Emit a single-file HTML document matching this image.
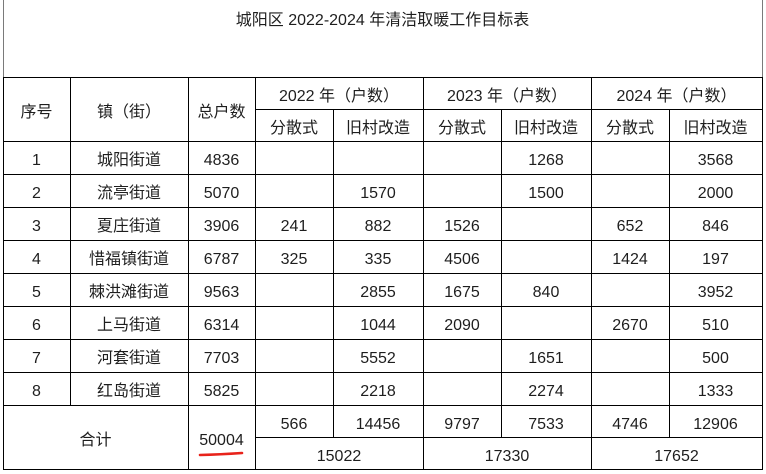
<!DOCTYPE html>
<html>
<head>
<meta charset="utf-8">
<style>
html,body{margin:0;padding:0;background:#fff;}
body{width:766px;height:474px;position:relative;overflow:hidden;font-family:"Liberation Sans","Noto Sans CJK SC",sans-serif;color:#1e1e1e;}
.h{position:absolute;height:1px;background:#000;}
.v{position:absolute;width:1px;background:#000;}
.g{background:#7a7a7a;}
.c{position:absolute;display:flex;align-items:center;justify-content:center;font-size:16px;line-height:1;white-space:nowrap;transform:translateY(3px);}
.t{transform:translateY(1px);}
</style>
</head>
<body>
<!-- title box borders -->
<div class="v g" style="left:3px;top:0;height:77px;"></div>
<div class="v g" style="left:762px;top:0;height:77px;"></div>
<div class="c t" style="left:3px;top:8px;width:759px;height:24px;">城阳区 2022-2024 年清洁取暖工作目标表</div>

<!-- horizontal lines -->
<div class="h" style="left:3px;width:760px;top:77px;"></div>
<div class="h" style="left:255px;width:508px;top:109px;"></div>
<div class="h" style="left:3px;width:760px;top:141px;"></div>
<div class="h" style="left:3px;width:760px;top:174px;"></div>
<div class="h" style="left:3px;width:760px;top:207px;"></div>
<div class="h" style="left:3px;width:760px;top:240px;"></div>
<div class="h" style="left:3px;width:760px;top:273px;"></div>
<div class="h" style="left:3px;width:760px;top:306px;"></div>
<div class="h" style="left:3px;width:760px;top:339px;"></div>
<div class="h" style="left:3px;width:760px;top:372px;"></div>
<div class="h" style="left:3px;width:760px;top:405px;"></div>
<div class="h" style="left:255px;width:508px;top:437px;"></div>
<div class="h" style="left:3px;width:760px;top:469px;"></div>

<!-- vertical lines -->
<div class="v" style="left:3px;top:77px;height:393px;"></div>
<div class="v" style="left:70px;top:77px;height:328px;"></div>
<div class="v" style="left:188px;top:77px;height:393px;"></div>
<div class="v" style="left:255px;top:77px;height:393px;"></div>
<div class="v" style="left:333px;top:109px;height:328px;"></div>
<div class="v" style="left:423px;top:77px;height:393px;"></div>
<div class="v" style="left:501px;top:109px;height:328px;"></div>
<div class="v" style="left:591px;top:77px;height:393px;"></div>
<div class="v" style="left:669px;top:109px;height:328px;"></div>
<div class="v" style="left:762px;top:77px;height:393px;"></div>

<!-- header -->
<div class="c" style="left:3px;top:78px;width:67px;height:63px;">序号</div>
<div class="c" style="left:70px;top:78px;width:118px;height:63px;">镇（街）</div>
<div class="c" style="left:188px;top:78px;width:67px;height:63px;">总户数</div>
<div class="c" style="left:255px;top:78px;width:168px;height:31px;">2022 年（户数）</div>
<div class="c" style="left:423px;top:78px;width:168px;height:31px;">2023 年（户数）</div>
<div class="c" style="left:591px;top:78px;width:171px;height:31px;">2024 年（户数）</div>
<div class="c" style="left:255px;top:110px;width:78px;height:31px;">分散式</div>
<div class="c" style="left:333px;top:110px;width:90px;height:31px;">旧村改造</div>
<div class="c" style="left:423px;top:110px;width:78px;height:31px;">分散式</div>
<div class="c" style="left:501px;top:110px;width:90px;height:31px;">旧村改造</div>
<div class="c" style="left:591px;top:110px;width:78px;height:31px;">分散式</div>
<div class="c" style="left:669px;top:110px;width:93px;height:31px;">旧村改造</div>

<!-- row 1 -->
<div class="c" style="left:3px;top:142px;width:67px;height:32px;">1</div>
<div class="c" style="left:70px;top:142px;width:118px;height:32px;">城阳街道</div>
<div class="c" style="left:188px;top:142px;width:67px;height:32px;">4836</div>
<div class="c" style="left:501px;top:142px;width:90px;height:32px;">1268</div>
<div class="c" style="left:669px;top:142px;width:93px;height:32px;">3568</div>
<!-- row 2 -->
<div class="c" style="left:3px;top:175px;width:67px;height:32px;">2</div>
<div class="c" style="left:70px;top:175px;width:118px;height:32px;">流亭街道</div>
<div class="c" style="left:188px;top:175px;width:67px;height:32px;">5070</div>
<div class="c" style="left:333px;top:175px;width:90px;height:32px;">1570</div>
<div class="c" style="left:501px;top:175px;width:90px;height:32px;">1500</div>
<div class="c" style="left:669px;top:175px;width:93px;height:32px;">2000</div>
<!-- row 3 -->
<div class="c" style="left:3px;top:208px;width:67px;height:32px;">3</div>
<div class="c" style="left:70px;top:208px;width:118px;height:32px;">夏庄街道</div>
<div class="c" style="left:188px;top:208px;width:67px;height:32px;">3906</div>
<div class="c" style="left:255px;top:208px;width:78px;height:32px;">241</div>
<div class="c" style="left:333px;top:208px;width:90px;height:32px;">882</div>
<div class="c" style="left:423px;top:208px;width:78px;height:32px;">1526</div>
<div class="c" style="left:591px;top:208px;width:78px;height:32px;">652</div>
<div class="c" style="left:669px;top:208px;width:93px;height:32px;">846</div>
<!-- row 4 -->
<div class="c" style="left:3px;top:241px;width:67px;height:32px;">4</div>
<div class="c" style="left:70px;top:241px;width:118px;height:32px;">惜福镇街道</div>
<div class="c" style="left:188px;top:241px;width:67px;height:32px;">6787</div>
<div class="c" style="left:255px;top:241px;width:78px;height:32px;">325</div>
<div class="c" style="left:333px;top:241px;width:90px;height:32px;">335</div>
<div class="c" style="left:423px;top:241px;width:78px;height:32px;">4506</div>
<div class="c" style="left:591px;top:241px;width:78px;height:32px;">1424</div>
<div class="c" style="left:669px;top:241px;width:93px;height:32px;">197</div>
<!-- row 5 -->
<div class="c" style="left:3px;top:274px;width:67px;height:32px;">5</div>
<div class="c" style="left:70px;top:274px;width:118px;height:32px;">棘洪滩街道</div>
<div class="c" style="left:188px;top:274px;width:67px;height:32px;">9563</div>
<div class="c" style="left:333px;top:274px;width:90px;height:32px;">2855</div>
<div class="c" style="left:423px;top:274px;width:78px;height:32px;">1675</div>
<div class="c" style="left:501px;top:274px;width:90px;height:32px;">840</div>
<div class="c" style="left:669px;top:274px;width:93px;height:32px;">3952</div>
<!-- row 6 -->
<div class="c" style="left:3px;top:307px;width:67px;height:32px;">6</div>
<div class="c" style="left:70px;top:307px;width:118px;height:32px;">上马街道</div>
<div class="c" style="left:188px;top:307px;width:67px;height:32px;">6314</div>
<div class="c" style="left:333px;top:307px;width:90px;height:32px;">1044</div>
<div class="c" style="left:423px;top:307px;width:78px;height:32px;">2090</div>
<div class="c" style="left:591px;top:307px;width:78px;height:32px;">2670</div>
<div class="c" style="left:669px;top:307px;width:93px;height:32px;">510</div>
<!-- row 7 -->
<div class="c" style="left:3px;top:340px;width:67px;height:32px;">7</div>
<div class="c" style="left:70px;top:340px;width:118px;height:32px;">河套街道</div>
<div class="c" style="left:188px;top:340px;width:67px;height:32px;">7703</div>
<div class="c" style="left:333px;top:340px;width:90px;height:32px;">5552</div>
<div class="c" style="left:501px;top:340px;width:90px;height:32px;">1651</div>
<div class="c" style="left:669px;top:340px;width:93px;height:32px;">500</div>
<!-- row 8 -->
<div class="c" style="left:3px;top:373px;width:67px;height:32px;">8</div>
<div class="c" style="left:70px;top:373px;width:118px;height:32px;">红岛街道</div>
<div class="c" style="left:188px;top:373px;width:67px;height:32px;">5825</div>
<div class="c" style="left:333px;top:373px;width:90px;height:32px;">2218</div>
<div class="c" style="left:501px;top:373px;width:90px;height:32px;">2274</div>
<div class="c" style="left:669px;top:373px;width:93px;height:32px;">1333</div>

<!-- totals -->
<div class="c" style="left:3px;top:406px;width:185px;height:63px;">合计</div>
<div class="c" style="left:188px;top:406px;width:67px;height:63px;">50004</div>
<div class="c" style="left:255px;top:406px;width:78px;height:31px;">566</div>
<div class="c" style="left:333px;top:406px;width:90px;height:31px;">14456</div>
<div class="c" style="left:423px;top:406px;width:78px;height:31px;">9797</div>
<div class="c" style="left:501px;top:406px;width:90px;height:31px;">7533</div>
<div class="c" style="left:591px;top:406px;width:78px;height:31px;">4746</div>
<div class="c" style="left:669px;top:406px;width:93px;height:31px;">12906</div>
<div class="c" style="left:255px;top:438px;width:168px;height:31px;">15022</div>
<div class="c" style="left:423px;top:438px;width:168px;height:31px;">17330</div>
<div class="c" style="left:591px;top:438px;width:171px;height:31px;">17652</div>

<!-- red underline -->
<svg style="position:absolute;left:0;top:0" width="766" height="474">
<path d="M200 455 Q220 454.5 242 453" stroke="#e8231b" stroke-width="2.6" fill="none" stroke-linecap="round"/>
</svg>
</body>
</html>
